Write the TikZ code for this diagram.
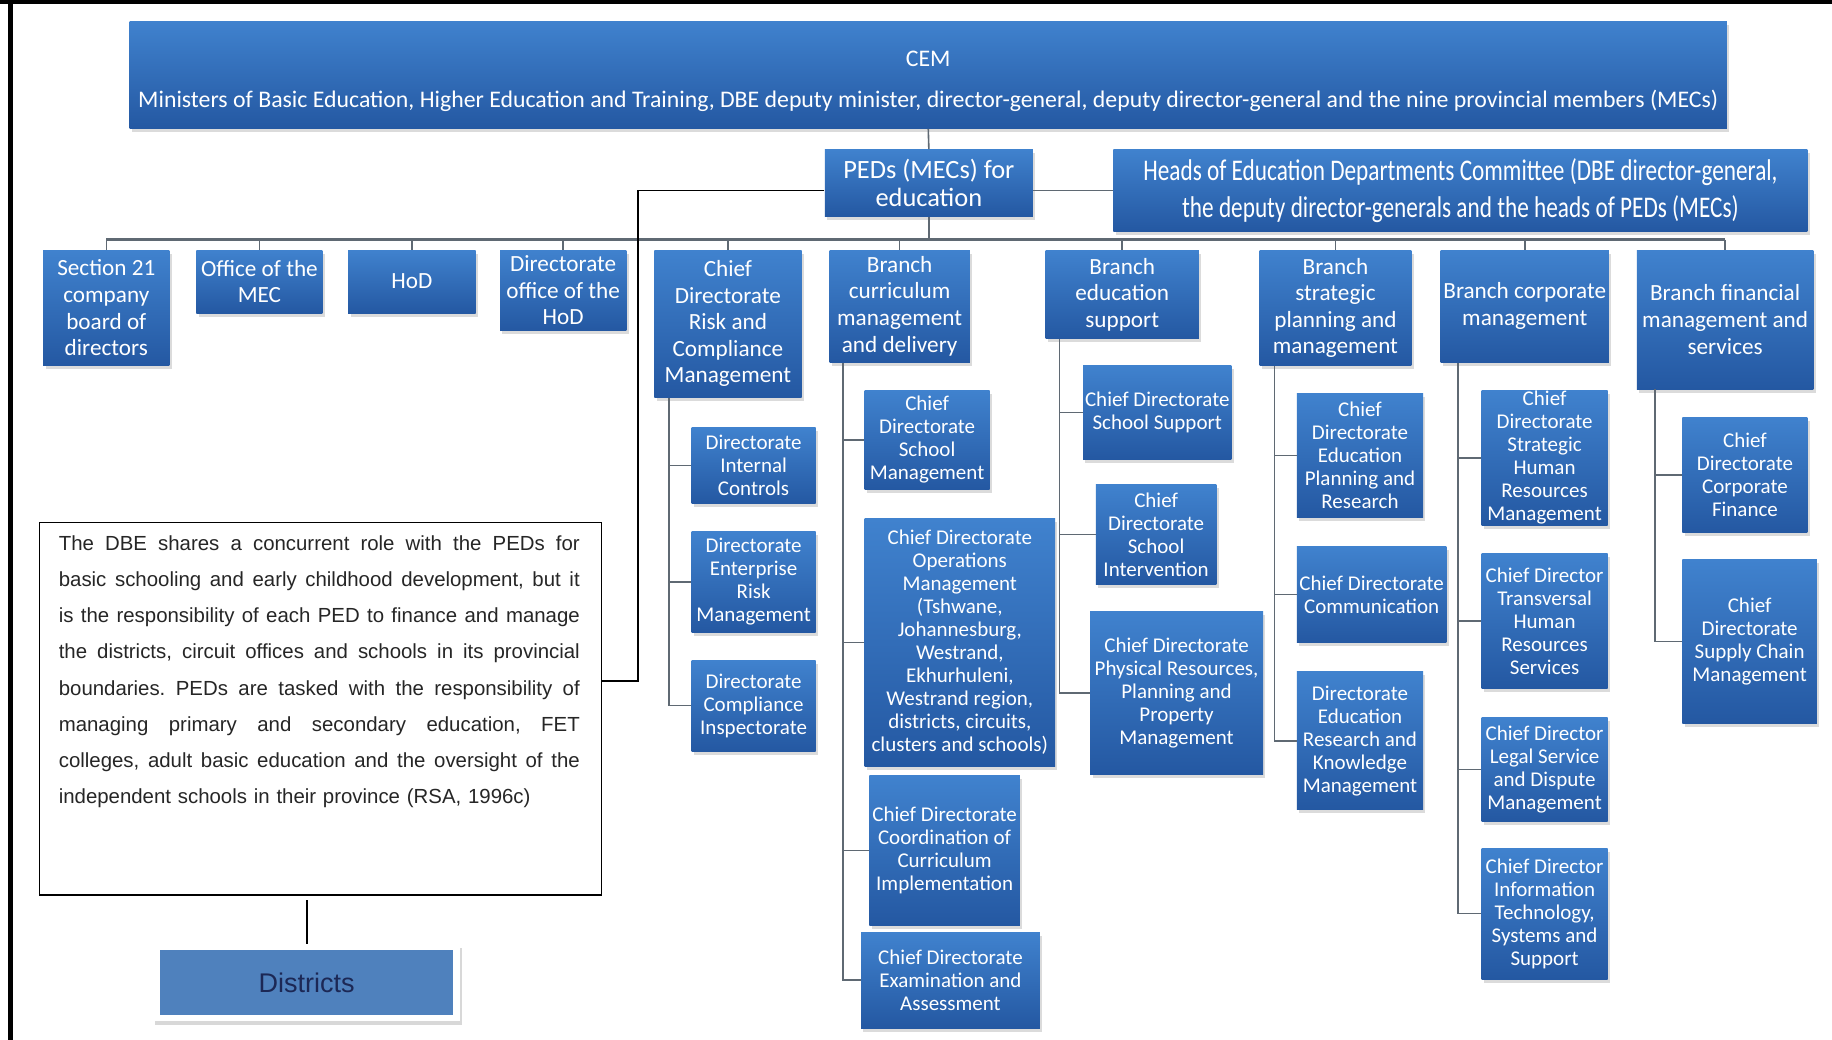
\documentclass[tikz,border=0pt]{standalone}
\usepackage{fontspec}
\setmainfont{Carlito}
\newfontfamily\condfont[FakeStretch=0.775]{Carlito}
\newfontfamily\arialfont{Liberation Sans}
\usetikzlibrary{shadows,calc}

\definecolor{boxtop}{RGB}{64,130,206}
\definecolor{boxbot}{RGB}{36,88,162}
\definecolor{linegray}{RGB}{95,105,115}
\definecolor{distblue}{RGB}{79,129,189}
\definecolor{distnavy}{RGB}{28,40,85}

\tikzset{
  unitbox/.style={rectangle, inner sep=0pt, align=center, text=white,
    top color=boxtop, bottom color=boxbot,
    drop shadow={shadow xshift=1.2pt, shadow yshift=-1.8pt, opacity=0.28}},
  lvtwo/.style={unitbox, font=\fontsize{11.6}{13.3}\selectfont},
  lvthree/.style={unitbox, font=\fontsize{10.5}{11.5}\selectfont},
  toplvl/.style={unitbox, font=\fontsize{11.9}{20.4}\selectfont},
  pedsbox/.style={unitbox, font=\fontsize{13.2}{13.6}\selectfont},
  headsbox/.style={unitbox, font=\condfont\fontsize{15}{18.7}\selectfont},
  conn/.style={draw=linegray, line width=0.8pt},
  bus/.style={draw=linegray, line width=1.4pt},
  blackconn/.style={draw=black, line width=0.8pt},
}

% box given by its corners (x1,y1)-(x2,y2) in picture units
\newcommand\orgbox[7][lvthree]{%
  \pgfmathsetmacro\obw{(#5-#3)*0.5842}%
  \pgfmathsetmacro\obh{(#6-#4)*0.5842}%
  \node[#1, minimum width=\obw pt, minimum height=\obh pt] (#2) at ({(#3+#5)/2},{(#4+#6)/2}) {#7};}

% one fully justified line of the note (words separated by \hfill)
\newcommand\jline[1]{\hbox to 260.5pt{#1}}
\newcommand\gap{\hfill}

\begin{document}
\begin{tikzpicture}[x=0.5842pt, y=-0.5842pt]
\useasboundingbox (0,0) rectangle (1568,890);
\fill[white] (0,0) rectangle (1568,890);

% frame
\draw[line width=2.2pt] (0,1.6) -- (1568,1.6);
\draw[line width=2.4pt] (9,0) -- (9,890);

% top level
\orgbox[toplvl]{cem}{111}{18}{1478}{110}{\rule{0pt}{14pt}CEM\\Ministers of Basic Education, Higher Education and Training, DBE deputy minister, director-general, deputy director-general and the nine provincial members (MECs)}
\orgbox[pedsbox]{peds}{706}{128}{884}{185}{PEDs (MECs) for\\education}
\orgbox[headsbox]{heads}{953}{128}{1547}{198}{Heads of Education Departments Committee (DBE director-general,\\the deputy director-generals and the heads of PEDs (MECs)}

% second level
\orgbox[lvtwo]{sec}{37}{214}{145}{313}{Section 21\\company\\board of\\directors}
\orgbox[lvtwo]{omec}{168}{214}{276}{268}{Office of the\\MEC}
\orgbox[lvtwo]{hod}{298}{214}{407}{268}{HoD}
\orgbox[lvtwo]{dohod}{428}{214}{536}{283}{Directorate\\office of the\\HoD}
\orgbox[lvtwo]{risk}{560}{214}{686}{340}{Chief\\Directorate\\Risk and\\Compliance\\Management}
\orgbox[lvtwo]{curr}{710}{214}{830}{310}{Branch\\curriculum\\management\\and delivery}
\orgbox[lvtwo]{edu}{895}{214}{1026}{290}{Branch\\education\\support}
\orgbox[lvtwo]{strat}{1078}{214}{1208}{313}{Branch\\strategic\\planning and\\management}
\orgbox[lvtwo]{corp}{1233}{214}{1377}{310}{Branch corporate\\management}
\orgbox[lvtwo]{fin}{1401}{214}{1552}{333}{Branch financial\\management and\\services}

% third level
\orgbox{ic}{592}{366}{698}{431}{Directorate\\Internal\\Controls}
\orgbox{erm}{592}{455}{698}{541}{Directorate\\Enterprise\\Risk\\Management}
\orgbox{ci}{592}{565}{698}{643}{Directorate\\Compliance\\Inspectorate}

\orgbox{sm}{740}{334}{847}{419}{Chief\\Directorate\\School\\Management}
\orgbox{ops}{740}{444}{903}{656}{Chief Directorate\\Operations\\Management\\(Tshwane,\\Johannesburg,\\Westrand,\\Ekhurhuleni,\\Westrand region,\\districts, circuits,\\clusters and schools)}
\orgbox{cci}{744}{664}{873}{792}{Chief Directorate\\Coordination of\\Curriculum\\Implementation}
\orgbox{exa}{737}{798}{890}{880}{Chief Directorate\\Examination and\\Assessment}

\orgbox{ss}{927}{313}{1054}{393}{Chief Directorate\\School Support}
\orgbox{si}{938}{415}{1041}{500}{Chief\\Directorate\\School\\Intervention}
\orgbox{pr}{933}{523}{1081}{663}{Chief Directorate\\Physical Resources,\\Planning and\\Property\\Management}

\orgbox{epr}{1110}{337}{1218}{443}{Chief\\Directorate\\Education\\Planning and\\Research}
\orgbox{com}{1110}{468}{1238}{550}{Chief Directorate\\Communication}
\orgbox{erk}{1110}{575}{1218}{693}{Directorate\\Education\\Research and\\Knowledge\\Management}

\orgbox{shr}{1268}{334}{1376}{450}{Chief\\Directorate\\Strategic\\Human\\Resources\\Management}
\orgbox{thr}{1268}{474}{1376}{589}{Chief Director\\Transversal\\Human\\Resources\\Services}
\orgbox{lsd}{1268}{614}{1376}{703}{Chief Director\\Legal Service\\and Dispute\\Management}
\orgbox{its}{1268}{726}{1376}{838}{Chief Director\\Information\\Technology,\\Systems and\\Support}

\orgbox{cf}{1440}{357}{1547}{456}{Chief\\Directorate\\Corporate\\Finance}
\orgbox{scm}{1440}{479}{1555}{619}{Chief\\Directorate\\Supply Chain\\Management}

% explanatory note
\node[draw=black, line width=0.6pt, inner sep=0pt, minimum width=481*0.5842pt,
      minimum height=319*0.5842pt] (tb) at (274.5,606.5) {};
\node[anchor=north west, inner sep=0pt, text width=446*0.5842pt,
      font=\arialfont\fontsize{10.2}{18.1}\selectfont, text=black!85] (tbtext) at (50,458) {%
\jline{The\gap DBE\gap shares\gap a\gap concurrent\gap role\gap with\gap the\gap PEDs\gap for}
\jline{basic\gap schooling\gap and\gap early\gap childhood\gap development,\gap but\gap it}
\jline{is\gap the\gap responsibility\gap of\gap each\gap PED\gap to\gap finance\gap and\gap manage}
\jline{the\gap districts,\gap circuit\gap offices\gap and\gap schools\gap in\gap its\gap provincial}
\jline{boundaries.\gap PEDs\gap are\gap tasked\gap with\gap the\gap responsibility\gap of}
\jline{managing\gap primary\gap and\gap secondary\gap education,\gap FET}
\jline{colleges,\gap adult\gap basic\gap education\gap and\gap the\gap oversight\gap of\gap the}
\hbox{independent schools in their province (RSA, 1996c)}};

% districts
\node[fill=white, inner sep=0pt, minimum width=263*0.5842pt, minimum height=66*0.5842pt,
      drop shadow={shadow xshift=1pt, shadow yshift=-2pt, opacity=0.3}] (distframe) at (262.5,841) {};
\node[fill=distblue, inner sep=0pt, minimum width=251*0.5842pt, minimum height=56*0.5842pt,
      text=distnavy, font=\arialfont\fontsize{13.5}{15}\selectfont] (dist) at (262.5,841) {Districts};

% connectors: top levels
\draw[conn] (cem.south) -- (peds.north);
\draw[conn] (heads.west -| peds.east) -- (heads.west);
\coordinate (busc) at (795,205);
\draw[conn] (peds.south) -- (busc);
\draw[bus] (busc -| sec.north) -- (busc -| fin.north);
\foreach \n in {sec,omec,hod,dohod,risk,curr,edu,strat,corp,fin}
  \draw[conn] (busc -| \n.north) -- (\n.north);

% connector to the note and on to the districts
\coordinate (tbturn) at (546,583);
\coordinate (tbin) at (515,583);
\draw[blackconn] (heads.west -| peds.west) -| (tbturn) -- (tbin);
\draw[blackconn] ($(tb.south -| distframe.north)+(0,4)$) -- (distframe.north);

% connectors: third level
\coordinate (risk-sp) at ($(risk.south west)+(13,0)$);
\draw[conn] (risk-sp) |- (ci.west);
\foreach \c in {ic,erm} \draw[conn] (\c.west -| risk-sp) -- (\c.west);

\coordinate (curr-sp) at ($(curr.south west)+(12,0)$);
\draw[conn] (curr-sp) |- (exa.west);
\foreach \c in {sm,ops,cci} \draw[conn] (\c.west -| curr-sp) -- (\c.west);

\coordinate (edu-sp) at ($(edu.south west)+(12,0)$);
\draw[conn] (edu-sp) |- (pr.west);
\foreach \c in {ss,si} \draw[conn] (\c.west -| edu-sp) -- (\c.west);

\coordinate (strat-sp) at ($(strat.south west)+(13,0)$);
\draw[conn] (strat-sp) |- (erk.west);
\foreach \c in {epr,com} \draw[conn] (\c.west -| strat-sp) -- (\c.west);

\coordinate (corp-sp) at ($(corp.south west)+(15,0)$);
\draw[conn] (corp-sp) |- (its.west);
\foreach \c in {shr,thr,lsd} \draw[conn] (\c.west -| corp-sp) -- (\c.west);

\coordinate (fin-sp) at ($(fin.south west)+(16,0)$);
\draw[conn] (fin-sp) |- (scm.west);
\draw[conn] (cf.west -| fin-sp) -- (cf.west);
\end{tikzpicture}
\end{document}
